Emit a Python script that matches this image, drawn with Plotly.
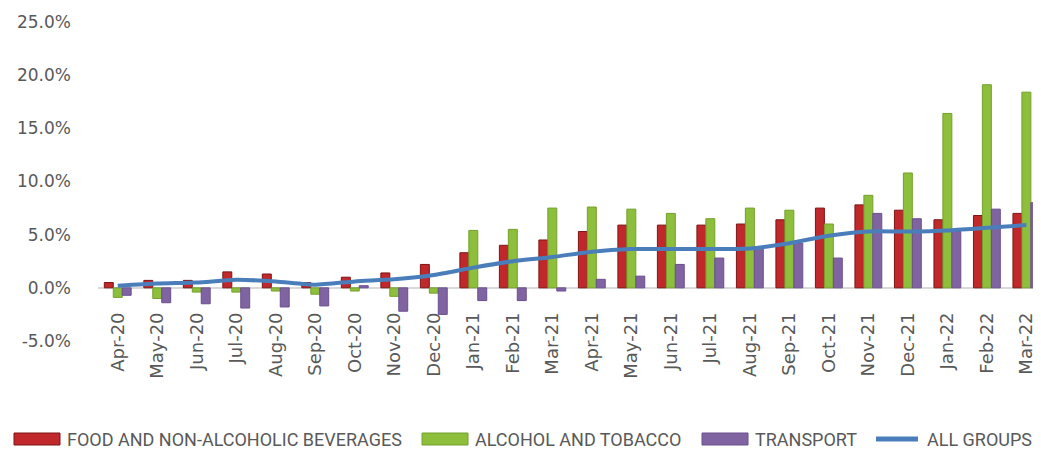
import plotly.graph_objects as go

months = ["Apr-20", "May-20", "Jun-20", "Jul-20", "Aug-20", "Sep-20", "Oct-20", "Nov-20",
          "Dec-20", "Jan-21", "Feb-21", "Mar-21", "Apr-21", "May-21", "Jun-21", "Jul-21",
          "Aug-21", "Sep-21", "Oct-21", "Nov-21", "Dec-21", "Jan-22", "Feb-22", "Mar-22"]

# year-on-year change, percent
food = [0.5, 0.7, 0.7, 1.5, 1.3, 0.5, 1.0, 1.4, 2.2, 3.3, 4.0, 4.5,
        5.3, 5.9, 5.9, 5.9, 6.0, 6.4, 7.5, 7.8, 7.3, 6.4, 6.8, 7.0]
alcohol = [-0.9, -1.0, -0.4, -0.4, -0.3, -0.6, -0.3, -0.8, -0.5, 5.4, 5.5, 7.5,
           7.6, 7.4, 7.0, 6.5, 7.5, 7.3, 6.0, 8.7, 10.8, 16.4, 19.1, 18.4]
transport = [-0.7, -1.4, -1.5, -1.9, -1.8, -1.7, 0.2, -2.2, -2.5, -1.2, -1.2, -0.3,
             0.8, 1.1, 2.2, 2.8, 3.8, 4.2, 2.8, 7.0, 6.5, 5.3, 7.4, 8.0]
all_groups = [0.2, 0.4, 0.5, 0.75, 0.6, 0.3, 0.6, 0.8, 1.2, 1.9, 2.5, 2.9,
              3.4, 3.65, 3.65, 3.65, 3.7, 4.2, 4.9, 5.3, 5.3, 5.4, 5.65, 5.9]

y_ticks = [-5, 0, 5, 10, 15, 20, 25]
y_labels = ["-5.0%", "0.0%", "5.0%", "10.0%", "15.0%", "20.0%", "25.0%"]

series_names = ["FOOD AND NON-ALCOHOLIC BEVERAGES", "ALCOHOL AND TOBACCO", "TRANSPORT", "ALL GROUPS"]
colors = ["#C0282B", "#8DBE3C", "#8064A2", "#4A7EBB"]
edges = ["#7E1416", "#74A02C", "#6A4F8E", "#4A7EBB"]

# page body has an 8px margin, so the figure is a bit smaller than the window
W, H = 1033, 443
L, R, T, B = 90, 0, 14, 110

fig = go.Figure()
for vals, name, c, e in zip([food, alcohol, transport], series_names[:3], colors[:3], edges[:3]):
    fig.add_bar(x=months, y=vals, name=name, showlegend=False,
                marker=dict(color=c, line=dict(color=e, width=1)))
fig.add_scatter(x=months, y=all_groups, name=series_names[3], mode="lines", showlegend=False,
                line=dict(color=colors[3], width=4, shape="spline", smoothing=0.6))

# hand-made legend below the plot (wide swatches like the original), screen px
def px_x(p):
    return (p - 8 - L) / (W - L - R)

def px_y(p):
    return (H - B - (p - 8)) / (H - T - B)

legend_x = [14, 422, 702, 874]
sw = 46
cy = 439
for i, (x0, name) in enumerate(zip(legend_x, series_names)):
    if i < 3:
        fig.add_shape(type="rect", xref="paper", yref="paper",
                      x0=px_x(x0), x1=px_x(x0 + sw), y0=px_y(cy + 6), y1=px_y(cy - 6),
                      fillcolor=colors[i], line=dict(color=edges[i], width=1))
    else:
        fig.add_shape(type="line", xref="paper", yref="paper",
                      x0=px_x(x0 + 2), x1=px_x(x0 + sw - 2), y0=px_y(cy), y1=px_y(cy),
                      line=dict(color=colors[i], width=5))
    fig.add_annotation(text=name, xref="paper", yref="paper", x=px_x(x0 + sw + 5), y=px_y(cy),
                       xanchor="left", yanchor="middle", showarrow=False,
                       font=dict(family="Roboto, sans-serif", size=18, color="#595959"))

fig.update_layout(
    width=W, height=H,
    margin=dict(l=L, r=R, t=T, b=B),
    plot_bgcolor="white", paper_bgcolor="white",
    barmode="group", bargap=0.32, bargroupgap=0,
    font=dict(family="DejaVu Sans, sans-serif", color="#595959", size=17),
    showlegend=False,
)
fig.update_yaxes(range=[-5, 25], tickvals=y_ticks, ticktext=y_labels, showgrid=False,
                 zeroline=True, zerolinecolor="#D9D9D9", zerolinewidth=1.5,
                 showline=False, ticks="", ticklabelstandoff=26, automargin=False,
                 tickfont=dict(size=17))
fig.update_xaxes(range=[-0.5, 23.37], anchor="free", position=1/6, showgrid=False,
                 showline=False, tickangle=-90, ticks="", ticklabelstandoff=20,
                 automargin=False, tickfont=dict(size=18))

fig.write_html("out.html")
